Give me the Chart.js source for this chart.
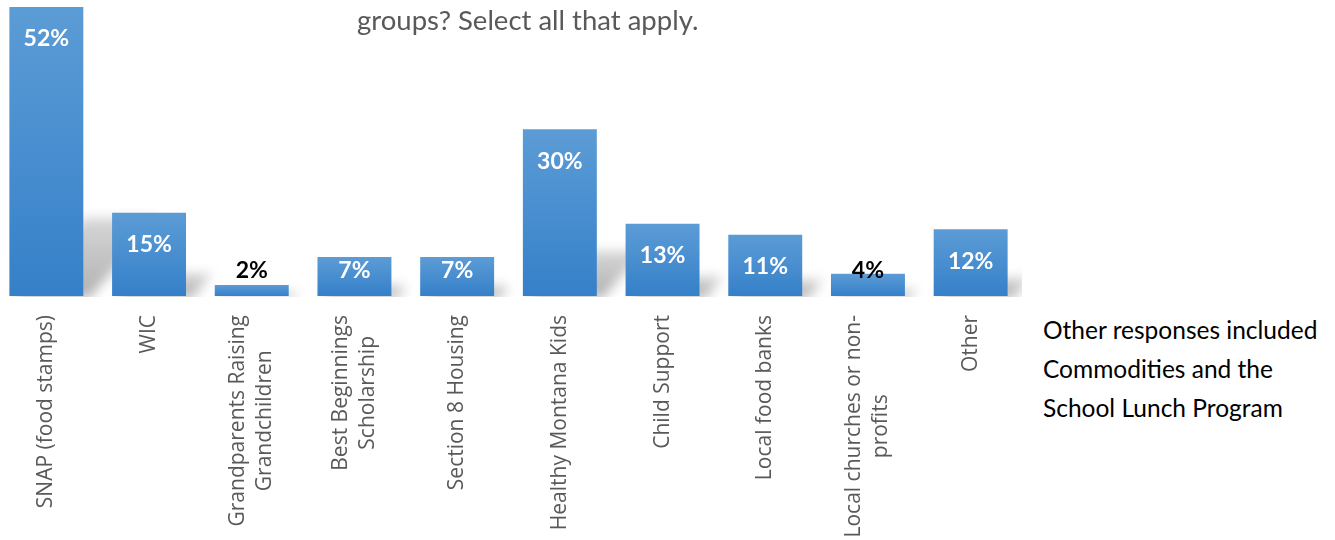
<!DOCTYPE html>
<html>
<head>
<meta charset="utf-8">
<script src="https://cdn.jsdelivr.net/npm/chart.js@4.4.1/dist/chart.umd.min.js"></script>
<style>
  html, body { margin: 0; padding: 0; background: #ffffff; width: 1335px; height: 540px; overflow: hidden; position: relative; }
  #wrap { position: absolute; left: -5px; top: 0; width: 1027px; height: 540px; }
  #title { position: absolute; left: 357px; top: 3px; font-family: Lato, "Open Sans", sans-serif; font-size: 27.5px; color: #595959; white-space: nowrap; }
  #note { position: absolute; left: 1043px; top: 310px; font-family: Lato, "Open Sans", sans-serif; font-size: 24.5px; line-height: 39px; color: #000000; white-space: nowrap; }
</style>
</head>
<body>
<div id="wrap"><canvas id="c"></canvas></div>
<div id="title">groups? Select all that apply.</div>
<div id="note">Other responses included<br>Commodities and the<br>School Lunch Program</div>
<script>
const categories = [
  ["SNAP (food stamps)"],
  ["WIC"],
  ["Grandparents Raising", "Grandchildren"],
  ["Best Beginnings", "Scholarship"],
  ["Section 8 Housing"],
  ["Healthy Montana Kids"],
  ["Child Support"],
  ["Local food banks"],
  ["Local churches or non-", "profits"],
  ["Other"]
];
const values = [52, 15, 2, 7, 7, 30, 13, 11, 4, 12];
const valueLabels = ["52%", "15%", "2%", "7%", "7%", "30%", "13%", "11%", "4%", "12%"];

function barFill(ctx) {
  const chart = ctx.chart;
  const area = chart.chartArea;
  if (!area || ctx.type !== 'data') return '#4a8fd0';
  const ys = chart.scales.y;
  const top = ys.getPixelForValue(ctx.raw);
  const base = ys.getPixelForValue(0);
  const g = chart.ctx.createLinearGradient(0, top, 0, base);
  g.addColorStop(0, '#5c9cd6');
  g.addColorStop(1, '#3580c9');
  return g;
}

const shadowPlugin = {
  id: 'barShadow',
  beforeDatasetsDraw(chart) {
    const ctx = chart.ctx;
    const area = chart.chartArea;
    const meta = chart.getDatasetMeta(0);
    ctx.save();
    ctx.beginPath();
    ctx.rect(area.left, 0, area.right - area.left + 40, area.bottom + 1);
    ctx.clip();
    ctx.filter = 'blur(6px)';
    meta.data.forEach(el => {
      const p = el.getProps(['x', 'y', 'base', 'width'], true);
      const h = (p.base - p.y) * 0.27;
      const left = p.x - p.width / 2, right = p.x + p.width / 2;
      const dx = h * 0.9;
      const g = ctx.createLinearGradient(0, p.base, 0, p.base - h);
      g.addColorStop(0, 'rgba(0,0,0,0.30)');
      g.addColorStop(1, 'rgba(0,0,0,0.16)');
      ctx.fillStyle = g;
      ctx.beginPath();
      ctx.moveTo(left + 4, p.base + 2);
      ctx.lineTo(right + 6, p.base + 2);
      ctx.lineTo(right + dx + 6, p.base - h);
      ctx.lineTo(left + dx + 4, p.base - h);
      ctx.closePath();
      ctx.fill();
    });
    ctx.restore();
  }
};

const labelPlugin = {
  id: 'valueLabels',
  afterDatasetsDraw(chart) {
    const ctx = chart.ctx;
    const meta = chart.getDatasetMeta(0);
    ctx.save();
    ctx.font = 'bold 23px Lato, "Open Sans", sans-serif';
    ctx.textAlign = 'center';
    ctx.textBaseline = 'middle';
    meta.data.forEach((el, i) => {
      const p = el.getProps(['x', 'y', 'base'], true);
      const hgt = p.base - p.y;
      const y = Math.min(p.y + 32, p.base - 25);
      ctx.fillStyle = hgt >= 30 ? '#ffffff' : '#000000';
      ctx.fillText(valueLabels[i], p.x, y);
    });
    ctx.restore();
  }
};

const tickPlugin = {
  id: 'centeredTicks',
  afterDraw(chart) {
    const ctx = chart.ctx;
    const xs = chart.scales.x;
    const top = xs.top + 19;
    const lineH = 27;
    ctx.save();
    ctx.font = '21px "Open Sans", sans-serif';
    ctx.fillStyle = '#595959';
    ctx.textBaseline = 'middle';
    ctx.textAlign = 'center';
    categories.forEach((lines, i) => {
      const cx = xs.getPixelForValue(i);
      const W = Math.max(...lines.map(l => ctx.measureText(l).width));
      ctx.save();
      ctx.translate(cx, top);
      ctx.rotate(-Math.PI / 2);
      lines.forEach((l, j) => {
        const off = (j - (lines.length - 1) / 2) * lineH;
        ctx.fillText(l, -W / 2, off);
      });
      ctx.restore();
    });
    ctx.restore();
  }
};

new Chart(document.getElementById('c'), {
  type: 'bar',
  data: {
    labels: categories,
    datasets: [{
      data: values,
      backgroundColor: barFill,
      borderWidth: 0,
      barPercentage: 0.72,
      categoryPercentage: 1.0
    }]
  },
  options: {
    responsive: true,
    maintainAspectRatio: false,
    animation: false,
    layout: { padding: { top: 7, left: 0, right: 0, bottom: 0 } },
    plugins: { legend: { display: false }, tooltip: { enabled: false }, title: { display: false } },
    scales: {
      x: {
        grid: { display: false },
        border: { display: false },
        ticks: { display: false },
        afterFit(scale) { scale.height = 244; }
      },
      y: { display: false, min: 0, max: 52 }
    }
  },
  plugins: [shadowPlugin, labelPlugin, tickPlugin]
});
</script>
</body>
</html>
